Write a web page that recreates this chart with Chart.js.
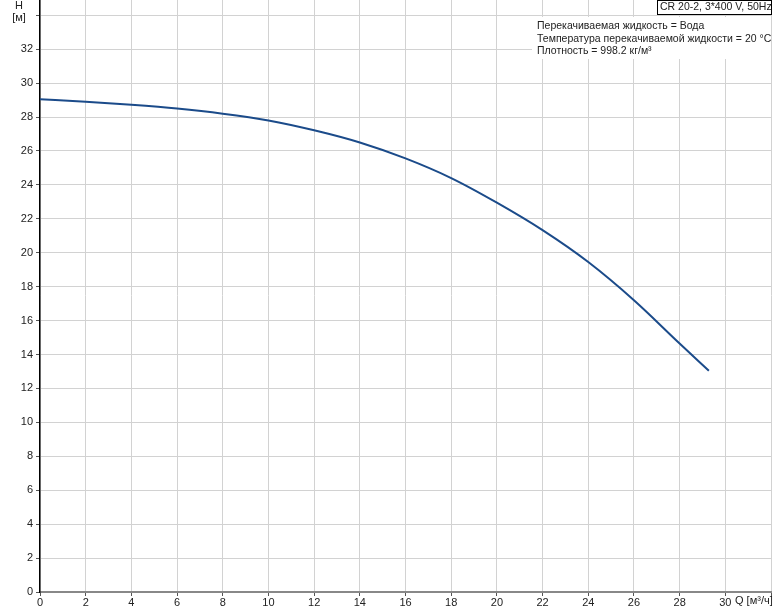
<!DOCTYPE html>
<html>
<head>
<meta charset="utf-8">
<script src="https://cdn.jsdelivr.net/npm/chart.js@4/dist/chart.umd.min.js"></script>
<style>
  html, body { margin: 0; padding: 0; background: #fff; }
  #chart { display: block; }
</style>
</head>
<body>
<canvas id="chart" width="774" height="611"></canvas>
<script>
// pump curve
const flow = [0, 2, 4, 6, 8, 10, 12, 14, 16, 18, 20, 22, 24, 26, 28, 29.28];
const head = [29.05, 28.9, 28.72, 28.5, 28.2, 27.8, 27.22, 26.5, 25.56, 24.4, 22.95, 21.33, 19.45, 17.2, 14.65, 13.04];
const xTicks = [0, 2, 4, 6, 8, 10, 12, 14, 16, 18, 20, 22, 24, 26, 28, 30, 32];
const yTicks = [0, 2, 4, 6, 8, 10, 12, 14, 16, 18, 20, 22, 24, 26, 28, 30, 32, 34];
const title = 'CR 20-2, 3*400 V, 50Hz';
const infoLines = [
  'Перекачиваемая жидкость = Вода',
  'Температура перекачиваемой жидкости = 20 °C',
  'Плотность = 998.2 кг/м³'
];

const FONT = "'Liberation Sans', Arial, sans-serif";

const labelsPlugin = {
  id: 'labels',
  afterDraw(chart) {
    const ctx = chart.ctx;
    ctx.save();
    ctx.font = '11px ' + FONT;
    ctx.fillStyle = '#222';
    ctx.textBaseline = 'middle';
    // axis names
    ctx.textAlign = 'center';
    ctx.fillText('H', 19, 6);
    ctx.fillText('[м]', 19, 18);
    ctx.textAlign = 'left';
    ctx.fillText('Q [м³/ч]', 735, 601);

    // info block
    ctx.fillStyle = '#fff';
    ctx.fillRect(532, 17, 239, 42);
    ctx.fillStyle = '#222';
    ctx.font = '10.5px ' + FONT;
    infoLines.forEach((t, i) => ctx.fillText(t, 537, 26 + i * 12.7));

    // title box
    ctx.fillStyle = '#fff';
    ctx.fillRect(657, 0, 115, 15);
    ctx.strokeStyle = '#000';
    ctx.lineWidth = 1;
    ctx.strokeRect(657.5, 0.5, 114, 14);
    ctx.fillStyle = '#222';
    ctx.fillText(title, 660, 7.5);
    ctx.restore();
  }
};

new Chart(document.getElementById('chart'), {
  type: 'line',
  data: {
    datasets: [{
      data: flow.map((q, i) => ({ x: q, y: head[i] })),
      borderColor: '#1b4b8a',
      borderWidth: 2,
      pointRadius: 0,
      cubicInterpolationMode: 'monotone',
      fill: false
    }]
  },
  options: {
    responsive: false,
    animation: false,
    layout: { padding: { top: 0, right: 3, left: 0, bottom: 0 } },
    plugins: { legend: { display: false }, tooltip: { enabled: false } },
    scales: {
      x: {
        type: 'linear',
        min: 0,
        max: 32,
        afterBuildTicks: s => { s.ticks = xTicks.map(v => ({ value: v })); },
        afterFit: s => { s.height = 19; s.paddingLeft = 0; s.paddingRight = 0; },
        grid: { color: '#d2d2d2', lineWidth: 1, tickLength: 4, tickColor: '#555' },
        border: { color: '#888', width: 2 },
        ticks: {
          padding: 0,
          maxRotation: 0,
          autoSkip: false,
          color: '#222',
          font: { family: FONT, size: 11 },
          callback: v => (v === 32 ? '' : v)
        }
      },
      y: {
        min: 0,
        max: 34.9,
        afterBuildTicks: s => { s.ticks = yTicks.map(v => ({ value: v })); },
        afterFit: s => { s.width = 40; s.paddingTop = 0; s.paddingBottom = 0; },
        grid: { color: '#d2d2d2', lineWidth: 1, tickLength: 4, tickColor: '#555' },
        border: { color: '#000', width: 1.5 },
        ticks: {
          padding: 3,
          autoSkip: false,
          color: '#222',
          font: { family: FONT, size: 11 },
          callback: v => (v === 34 ? '' : v)
        }
      }
    }
  },
  plugins: [labelsPlugin]
});
</script>
</body>
</html>
